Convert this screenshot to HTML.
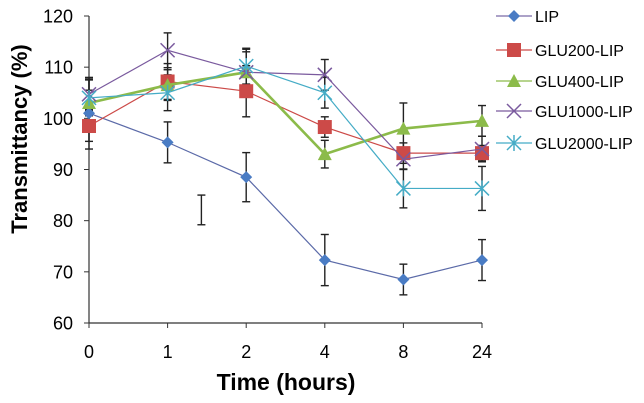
<!DOCTYPE html>
<html><head><meta charset="utf-8"><style>
body{margin:0;background:#fff;}
svg{display:block;font-family:"Liberation Sans",Arial,sans-serif;}
</style></head><body>
<svg id="chart" width="644" height="403" viewBox="0 0 644 403" xmlns="http://www.w3.org/2000/svg">
<g id="axes"></g><g id="errs"></g><g id="series"></g><g id="legend"></g>
<text x="0" y="0" transform="translate(27,139) rotate(-90)" text-anchor="middle" font-size="22" font-weight="bold">Transmittancy (%)</text>
<text x="286" y="390" text-anchor="middle" font-size="23" font-weight="bold">Time (hours)</text>
</svg>
<script>
const categories=["0","1","2","4","8","24"];
const yTicks=[60,70,80,90,100,110,120];
const seriesNames=["LIP","GLU200-LIP","GLU400-LIP","GLU1000-LIP","GLU2000-LIP"];
const lipValues=[101,95.3,88.5,72.3,68.5,72.3];
const lipErrors=[7,4,4.8,5,3,4];
const glu200Values=[98.5,107.2,105.3,98.3,93.2,93.2];
const glu200Errors=[3,3.5,5,2,2,1.5];
const glu400Values=[103,106.5,109,93,98,99.5];
const glu400Errors=[2.5,3,4,2.7,5,3];
const glu1000Values=[104.7,113.3,109,108.5,92,94];
const glu1000Errors=[3,3.4,4.5,3,2,2.5];
const glu2000Values=[104,105,110.2,105,86.3,86.3];
const glu2000Errors=[3.5,3.5,3.5,3,3.8,4.3];
const strayBar=[1.43,79.2,85];
const NS="http://www.w3.org/2000/svg";
const x0=89,dx=78.6,yTop=16,yBot=323;
const X=i=>x0+i*dx;
const Y=v=>yBot-(v-60)/60*(yBot-yTop);
function mk(p,t,a){const e=document.createElementNS(NS,t);for(const k in a)e.setAttribute(k,a[k]);p.appendChild(e);return e;}
const axes=document.getElementById('axes');
let el=mk(axes,'line',{x1:x0,y1:yTop,x2:x0,y2:yBot,stroke:'#333','stroke-width':1.2});


el=mk(axes,'line',{x1:x0,y1:yBot,x2:X(5),y2:yBot,stroke:'#333','stroke-width':1.2});


yTicks.forEach(v=>{mk(axes,'line',{x1:x0-5,y1:Y(v),x2:x0,y2:Y(v),stroke:'#333'});
 const t=mk(axes,'text',{x:x0-16,y:Y(v)+6.5,'text-anchor':'end','font-size':18});t.textContent=v;
 
 });
categories.forEach((c,i)=>{mk(axes,'line',{x1:X(i),y1:yBot,x2:X(i),y2:yBot+5,stroke:'#333'});
 const t=mk(axes,'text',{x:X(i),y:yBot+35,'text-anchor':'middle','font-size':18});t.textContent=c;
 
 });
const errs=document.getElementById('errs'),ser=document.getElementById('series');
function ebar(x,lo,hi){const g=mk(errs,'g',{stroke:'#222','stroke-width':1.4});
 
 
 mk(g,'line',{x1:x,y1:Y(lo),x2:x,y2:Y(hi)});mk(g,'line',{x1:x-4,y1:Y(lo),x2:x+4,y2:Y(lo)});mk(g,'line',{x1:x-4,y1:Y(hi),x2:x+4,y2:Y(hi)});}
function marker(g,type,x,y,col){
 if(type==='diamond')mk(g,'polygon',{points:`${x},${y-6} ${x+6},${y} ${x},${y+6} ${x-6},${y}`,fill:col});
 else if(type==='square')mk(g,'rect',{x:x-7,y:y-7,width:14,height:14,fill:col});
 else if(type==='tri')mk(g,'polygon',{points:`${x},${y-7} ${x+7},${y+6} ${x-7},${y+6}`,fill:col});
 else if(type==='x'){mk(g,'path',{d:`M${x-7},${y-7}L${x+7},${y+7}M${x-7},${y+7}L${x+7},${y-7}`,stroke:col,'stroke-width':1.5,fill:'none'});}
 else {mk(g,'path',{d:`M${x-7},${y-7}L${x+7},${y+7}M${x-7},${y+7}L${x+7},${y-7}M${x},${y-8}L${x},${y+8}`,stroke:col,'stroke-width':1.5,fill:'none'});}
}
const defs=[[lipValues,lipErrors,'#4a7cc4','#5b6aa8',1.2,'diamond'],[glu200Values,glu200Errors,'#cc4a48','#cc4a48',1.2,'square'],[glu400Values,glu400Errors,'#8cbb4a','#8cbb4a',2.6,'tri'],[glu1000Values,glu1000Errors,'#7a5a9e','#7a5a9e',1.2,'x'],[glu2000Values,glu2000Errors,'#45acc6','#45acc6',1.2,'star']];
defs.forEach(([vals,er],k)=>vals.forEach((v,i)=>ebar(X(i),v-er[i],v+er[i])));
ebar(x0+strayBar[0]*dx,strayBar[1],strayBar[2]);
defs.forEach(([vals,er,mc,lc,w,type],k)=>{
 const g=mk(ser,'g',{});
 
 
 mk(g,'polyline',{points:vals.map((v,i)=>X(i)+','+Y(v)).join(' '),fill:'none',stroke:lc,'stroke-width':w});
 vals.forEach((v,i)=>marker(g,type,X(i),Y(v),mc));
});
const leg=document.getElementById('legend');const ly=[16,50,81,111,143];
defs.forEach(([v,e,mc,lc,w,type],k)=>{
 const g=mk(leg,'g',{});
 
 
 mk(g,'line',{x1:496,y1:ly[k],x2:532,y2:ly[k],stroke:k==0?'#7a6aa8':lc,'stroke-width':1.2});
 marker(g,type,514,ly[k],mc);
 const t=mk(g,'text',{x:535,y:ly[k]+6,'font-size':16});t.textContent=seriesNames[k];
});
</script>
</body></html>
